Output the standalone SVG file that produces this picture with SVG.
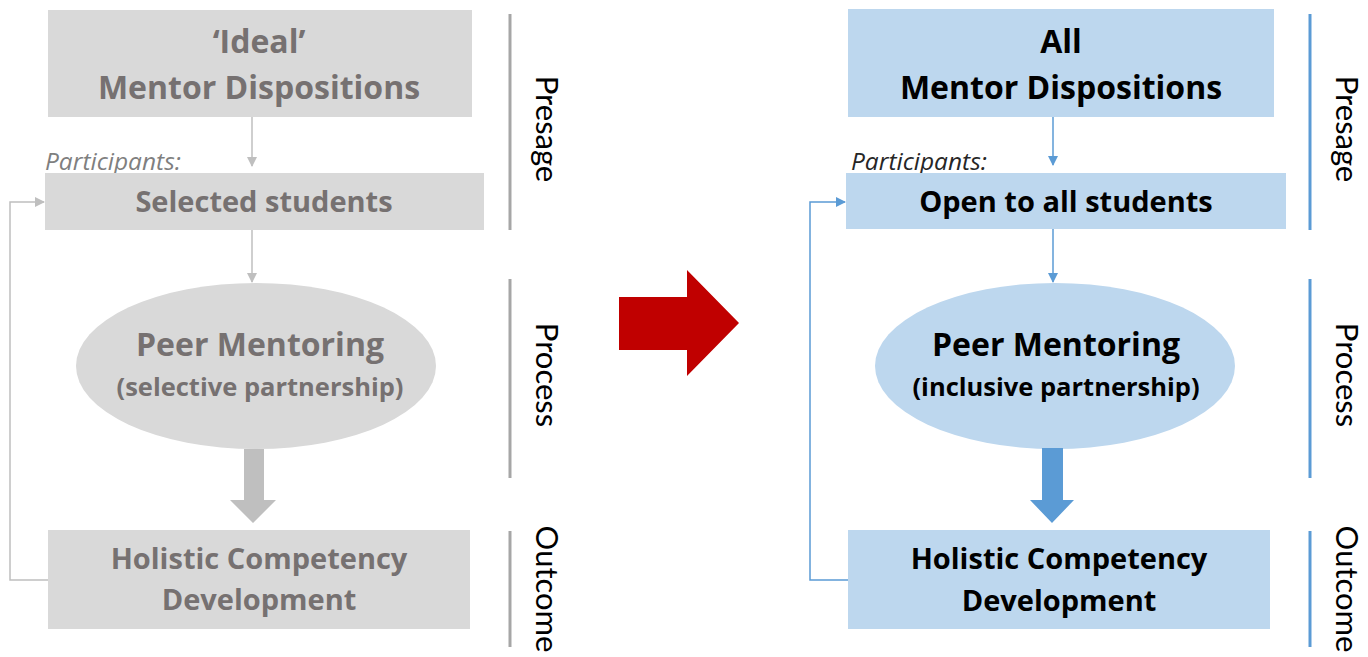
<svg xmlns="http://www.w3.org/2000/svg" width="1368" height="657" viewBox="0 0 1368 657">
  <style>
    .t { font-family: "Open Sans", Lato, "Liberation Sans", sans-serif; font-weight: bold; text-anchor: middle; }
    .old .t { fill: #767171; }
    .new .t { fill: #000000; }
    .part { font-family: "Open Sans", Lato, "Liberation Sans", sans-serif; font-style: italic; font-size: 24.5px; }
    .stage { font-family: Lato, "Open Sans", "Liberation Sans", sans-serif; font-size: 31px; fill: #000000; text-anchor: middle; }
    .oldfill { fill: #d9d9d9; }
    .newfill { fill: #bdd7ee; }
    .oldline { stroke: #bfbfbf; stroke-width: 1.5; fill: none; }
    .newline { stroke: #5b9bd5; stroke-width: 1.5; fill: none; }
  </style>
  <defs>
    <marker id="headOld" markerWidth="10" markerHeight="10" refX="9" refY="5" orient="auto" markerUnits="userSpaceOnUse">
      <path d="M0,0 L10,5 L0,10 Z" fill="#bfbfbf"/>
    </marker>
    <marker id="headNew" markerWidth="10" markerHeight="10" refX="9" refY="5" orient="auto" markerUnits="userSpaceOnUse">
      <path d="M0,0 L10,5 L0,10 Z" fill="#5b9bd5"/>
    </marker>
  </defs>

  <rect width="1368" height="657" fill="#ffffff"/>

  <!-- Left model (current) -->
  <g class="old">
    <g id="old-dispositions">
      <rect class="oldfill" x="48" y="10" width="424" height="107"/>
      <text class="t" x="259" y="53" font-size="32">‘Ideal’</text>
      <text class="t" x="259" y="99" font-size="32">Mentor Dispositions</text>
    </g>
    <g id="old-participants">
      <text class="part" x="45" y="170" fill="#7f7f7f">Participants:</text>
      <rect class="oldfill" x="45" y="173" width="439" height="57"/>
      <text class="t" x="264" y="212" font-size="29">Selected students</text>
    </g>
    <g id="old-mentoring">
      <ellipse class="oldfill" cx="256" cy="366" rx="180" ry="83"/>
      <text class="t" x="260" y="356" font-size="32">Peer Mentoring</text>
      <text class="t" x="260" y="396" font-size="25.5">(selective partnership)</text>
    </g>
    <g id="old-outcome">
      <rect class="oldfill" x="48" y="530" width="422" height="99"/>
      <text class="t" x="259" y="569" font-size="29">Holistic Competency</text>
      <text class="t" x="259" y="610" font-size="29">Development</text>
    </g>
    <g id="old-connectors">
      <line class="oldline" x1="252" y1="117" x2="252" y2="166" marker-end="url(#headOld)"/>
      <line class="oldline" x1="252" y1="230" x2="252" y2="282" marker-end="url(#headOld)"/>
      <polyline class="oldline" points="48,580 10,580 10,202 44,202" marker-end="url(#headOld)"/>
      <polygon points="244,449 264,449 264,500 276,500 253,523 230,500 244,500" fill="#bfbfbf"/>
    </g>
    <g id="old-stages">
      <line x1="510" y1="14" x2="510" y2="230" stroke="#a6a6a6" stroke-width="3"/>
      <line x1="510" y1="279" x2="510" y2="478" stroke="#a6a6a6" stroke-width="3"/>
      <line x1="510" y1="531" x2="510" y2="647" stroke="#a6a6a6" stroke-width="3"/>
      <text class="stage" transform="translate(536,129) rotate(90)">Presage</text>
      <text class="stage" transform="translate(536,375) rotate(90)">Process</text>
      <text class="stage" transform="translate(536,589) rotate(90)">Outcome</text>
    </g>
  </g>

  <!-- Transition arrow -->
  <polygon id="transition" points="619,297 687,297 687,270 739,323 687,376 687,350 619,350" fill="#c00000"/>

  <!-- Right model (proposed) -->
  <g class="new">
    <g id="new-dispositions">
      <rect class="newfill" x="848" y="9" width="426" height="108"/>
      <text class="t" x="1061" y="53" font-size="32">All</text>
      <text class="t" x="1061" y="99" font-size="32">Mentor Dispositions</text>
    </g>
    <g id="new-participants">
      <text class="part" x="851" y="170" fill="#262626">Participants:</text>
      <rect class="newfill" x="846" y="173" width="440" height="56"/>
      <text class="t" x="1066" y="212" font-size="29">Open to all students</text>
    </g>
    <g id="new-mentoring">
      <ellipse class="newfill" cx="1055" cy="366" rx="180" ry="83"/>
      <text class="t" x="1056" y="356" font-size="32">Peer Mentoring</text>
      <text class="t" x="1056" y="396" font-size="25.5">(inclusive partnership)</text>
    </g>
    <g id="new-outcome">
      <rect class="newfill" x="848" y="530" width="422" height="99"/>
      <text class="t" x="1059" y="569" font-size="29">Holistic Competency</text>
      <text class="t" x="1059" y="611" font-size="29">Development</text>
    </g>
    <g id="new-connectors">
      <line class="newline" x1="1053" y1="117" x2="1053" y2="165" marker-end="url(#headNew)"/>
      <line class="newline" x1="1053" y1="229" x2="1053" y2="282" marker-end="url(#headNew)"/>
      <polyline class="newline" points="848,580 810,580 810,202 845,202" marker-end="url(#headNew)"/>
      <polygon points="1042,448 1063,448 1063,500 1074,500 1052,523 1030,500 1042,500" fill="#5b9bd5"/>
    </g>
    <g id="new-stages">
      <line x1="1310" y1="14" x2="1310" y2="230" stroke="#5b9bd5" stroke-width="3"/>
      <line x1="1310" y1="279" x2="1310" y2="478" stroke="#5b9bd5" stroke-width="3"/>
      <line x1="1310" y1="531" x2="1310" y2="647" stroke="#5b9bd5" stroke-width="3"/>
      <text class="stage" transform="translate(1336,129) rotate(90)">Presage</text>
      <text class="stage" transform="translate(1336,375) rotate(90)">Process</text>
      <text class="stage" transform="translate(1336,589) rotate(90)">Outcome</text>
    </g>
  </g>
</svg>
